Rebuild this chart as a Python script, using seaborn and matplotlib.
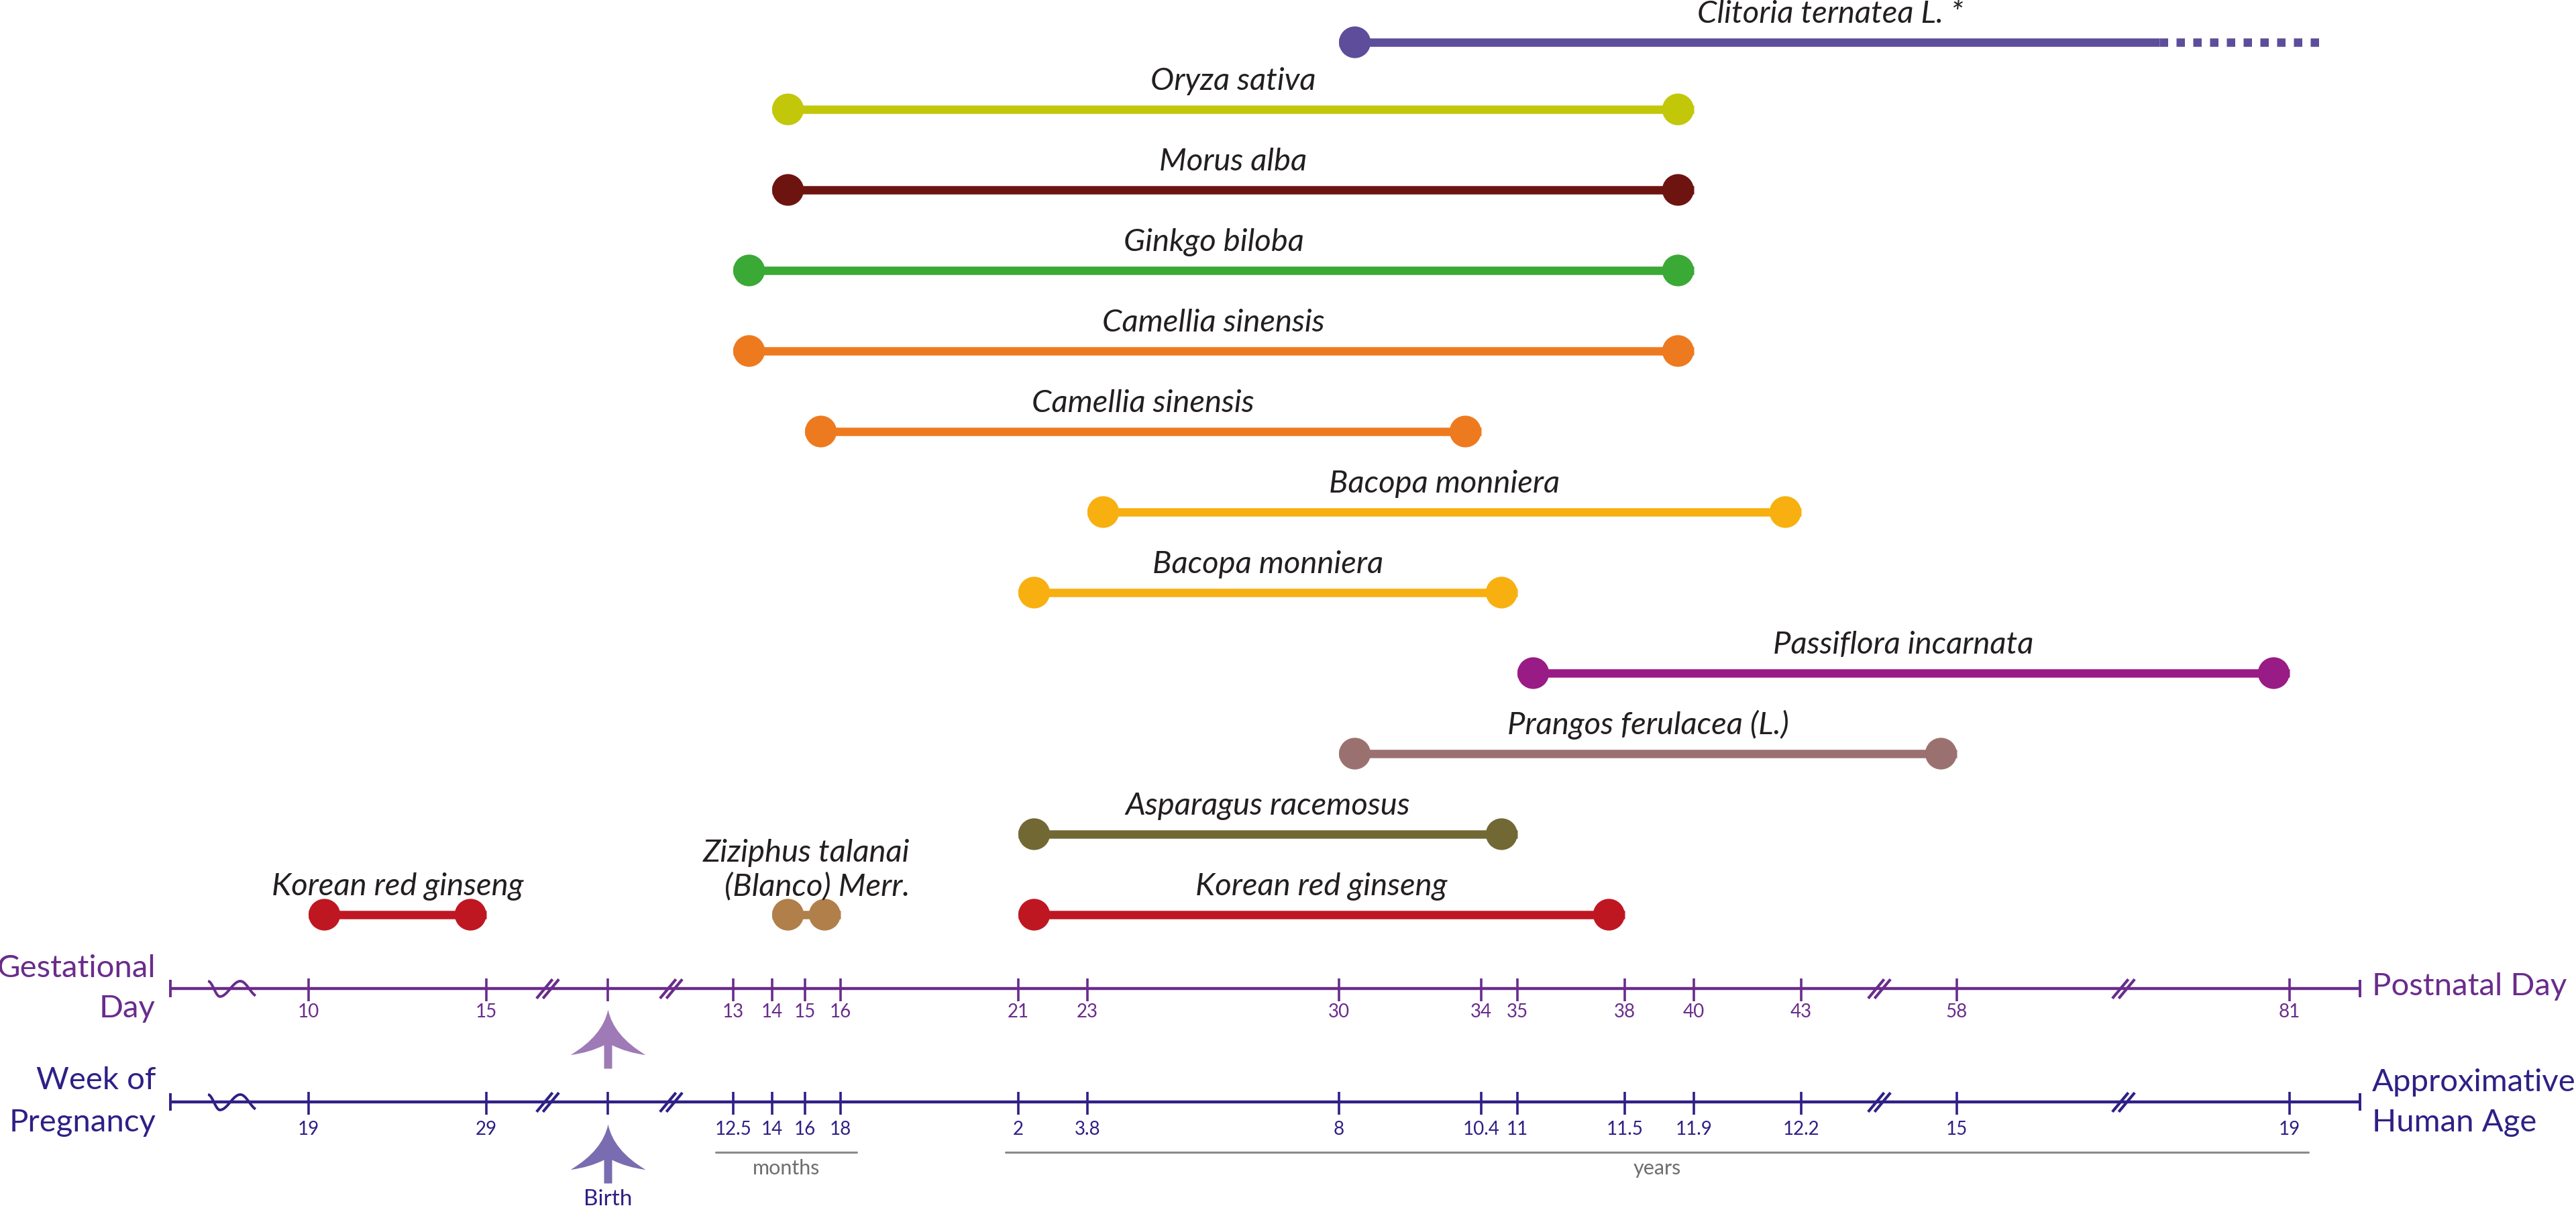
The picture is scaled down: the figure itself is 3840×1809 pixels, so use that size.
import numpy as np
import pandas as pd
import matplotlib
matplotlib.use('Agg')
import matplotlib.pyplot as plt
import seaborn as sns
from matplotlib.path import Path
from matplotlib.transforms import offset_copy

# ---- data -------------------------------------------------------------
# one bar per study, top row first; days are postnatal days unless prenatal
plants = ["Clitoria ternatea L. *", "Oryza sativa", "Morus alba", "Ginkgo biloba",
          "Camellia sinensis", "Camellia sinensis", "Bacopa monniera", "Bacopa monniera",
          "Passiflora incarnata", "Prangos ferulacea (L.)", "Asparagus racemosus",
          "Korean red ginseng", "Korean red ginseng", "Ziziphus talanai\n(Blanco) Merr."]
start_day = [30, 14, 14, 13, 13, 15, 23, 21, 35, 30, 21, 21, 10, 14]
end_day = [72, 40, 40, 40, 40, 34, 43, 35, 81, 58, 35, 38, 15, 16]
prenatal = [False] * 12 + [True, False]
continued_to = [83.3] + [np.nan] * 13   # dotted continuation (Clitoria only)
bar_colors = ["#5d4d9b", "#c2c70a", "#6e1410", "#3aa935", "#ee7a1f", "#ee7a1f",
              "#f7b00f", "#f7b00f", "#991b85", "#9b7170", "#716834", "#bf1722",
              "#bf1722", "#b07f4a"]

# axis ticks: gestational/postnatal day (rat) and matching human age
GEST_LEN = 22
day_ticks = [10 - GEST_LEN, 15 - GEST_LEN, 0, 13, 14, 15, 16, 21, 23, 30, 34, 35,
             38, 40, 43, 58, 81]
day_labels = ["10", "15", "", "13", "14", "15", "16", "21", "23", "30", "34", "35",
              "38", "40", "43", "58", "81"]
human_labels = ["19", "29", "", "12.5", "14", "16", "18", "2", "3.8", "8", "10.4",
                "11", "11.5", "11.9", "12.2", "15", "19"]

# ---- layout -----------------------------------------------------------
lane = [11, 10, 9, 8, 7, 6, 5, 4, 3, 2, 1, 0, 0, 0]
ROW_BASE, ROW_STEP = 1363, 120
TICK_POS = [460, 725, 906, 1093, 1151, 1200, 1253, 1518, 1621, 1996, 2208, 2262,
            2422, 2525, 2685, 2917, 3413]
AXIS_T = (-16, 86)
SCALE_T = np.array([-30, AXIS_T[0]] + day_ticks + [AXIS_T[1], 110], dtype=float)
SCALE_P = np.array([-488, 254] + TICK_POS + [3518, 4022], dtype=float)
GEST_Y, WEEK_Y = 1473, 1642
GEST_COL, WEEK_COL = "#6a2c8c", "#2e2086"
LABEL_COL = "#231f20"
DOT = 34  # marker diameter in points


def fwd(t):
    return np.interp(t, SCALE_T, SCALE_P)


def inv(p):
    return np.interp(p, SCALE_P, SCALE_T)


sns.set_theme(style="white")
plt.rcParams['font.family'] = ['Lato', 'DejaVu Sans']

fig = plt.figure(figsize=(38.4, 18.09), dpi=100)
ax = fig.add_axes([0, 0, 1, 1])
ax.set_xscale('function', functions=(fwd, inv))

df = pd.DataFrame({"plant": plants, "start": start_day, "end": end_day,
                   "prenatal": prenatal, "cont": continued_to,
                   "color": bar_colors, "lane": lane})
df["t0"] = np.where(df.prenatal, df.start - GEST_LEN, df.start)
df["t1"] = np.where(df.prenatal, df.end - GEST_LEN, df.end)
df["y"] = ROW_BASE - ROW_STEP * df.lane
df.loc[df.lane == 11, "y"] += 20  # top row squeezed under the page edge
df["key"] = df.index.astype(str)
pal = dict(zip(df.key, df.color))

# bars
ax.hlines(df.y, df.t0, df.t1, colors=df.color, lw=9, zorder=2)
cont = df.dropna(subset=["cont"])
ax.hlines(cont.y, cont.t1, cont.cont, colors=cont.color, lw=9,
          linestyles=[(0, (1, 1))], zorder=2)

# end dots, pulled inside the bar by one radius
r = DOT / 2
sns.scatterplot(data=df, x="t0", y="y", hue="key", palette=pal, s=DOT ** 2,
                linewidth=0, legend=False, ax=ax, zorder=3,
                transform=offset_copy(ax.transData, fig=fig, x=r, y=0, units='points'))
ends = df[df.cont.isna()]
sns.scatterplot(data=ends, x="t1", y="y", hue="key", palette=pal, s=DOT ** 2,
                linewidth=0, legend=False, ax=ax, zorder=3,
                transform=offset_copy(ax.transData, fig=fig, x=-r, y=0, units='points'))

# labels centred over each bar
for _, row in df.iterrows():
    t_end = row.cont if not np.isnan(row.cont) else row.t1
    xm = inv((fwd(row.t0) + fwd(t_end)) / 2)
    ax.text(xm, row.y - 21, row.plant, ha="center", va="bottom", ma="right",
            style="italic", fontsize=34, color=LABEL_COL, zorder=4)

# ---- the two timelines ------------------------------------------------
brk = Path([(-14, -12), (6, 12), (-6, -12), (14, 12)],
           [Path.MOVETO, Path.LINETO, Path.MOVETO, Path.LINETO])
u = np.linspace(0, 1, 60)
phase = np.interp(u, [0, 0.25, 0.68, 1.0], [0, np.pi, 2 * np.pi, 2.85 * np.pi])
wave = Path(np.column_stack([u * 71 - 35.5, 11.5 * np.cos(phase)]))
break_t = [inv((TICK_POS[a] + TICK_POS[a + 1]) / 2) for a in (1, 2, 14, 15)]

for y0, col, labels, lab_dy in [(GEST_Y, GEST_COL, day_labels, 35),
                                (WEEK_Y, WEEK_COL, human_labels, 41)]:
    ax.plot(AXIS_T, [y0, y0], color=col, lw=3.2, solid_capstyle="butt", zorder=1)
    ax.vlines(AXIS_T, y0 - 13, y0 + 13, color=col, lw=2.8)
    ax.vlines(day_ticks, y0 - 15, y0 + 19, color=col, lw=2.6)
    for t, lab in zip(day_ticks, labels):
        ax.text(t, y0 + lab_dy, lab, ha="center", va="center", fontsize=20, color=col)
    ax.plot(break_t, [y0] * len(break_t), ls="none", marker=brk, markersize=24,
            markerfacecolor="none", markeredgecolor=col, markeredgewidth=3)
    ax.plot([inv(345)], [y0], ls="none", marker=wave, markersize=51,
            markerfacecolor="none", markeredgecolor=col, markeredgewidth=2.8)

# axis titles
left_x, right_x = inv(232), inv(3536)
ax.text(left_x, 1443, "Gestational", ha="right", va="center", fontsize=34, color=GEST_COL)
ax.text(left_x, 1503, "Day", ha="right", va="center", fontsize=34, color=GEST_COL)
ax.text(left_x, 1610, "Week of", ha="right", va="center", fontsize=34, color=WEEK_COL)
ax.text(left_x, 1673, "Pregnancy", ha="right", va="center", fontsize=34, color=WEEK_COL)
ax.text(right_x, 1470, "Postnatal Day", ha="left", va="center", fontsize=34, color=GEST_COL)
ax.text(right_x, 1613, "Approximative", ha="left", va="center", fontsize=34, color=WEEK_COL)
ax.text(right_x, 1673, "Human Age", ha="left", va="center", fontsize=34, color=WEEK_COL)

# months / years brackets
for a, b, pad0, pad1, word in [(3, 6, 26, 24, "months"), (7, 16, 19, 28, "years")]:
    p0, p1 = TICK_POS[a] - pad0, TICK_POS[b] + pad1
    ax.plot([inv(p0), inv(p1)], [1717, 1717], color="#8a8a8c", lw=2.2)
    ax.text(inv((p0 + p1) / 2), 1741, word, ha="center", va="center",
            fontsize=22, color="#6d6e70")

# birth arrows
arrow = Path([(0, 44), (8, 5), (56, -23.6), (28, -20), (6, -9), (6, -44), (-6, -44),
              (-6, -9), (-28, -20), (-56, -23.6), (-8, 5), (0, 44), (0, 44)],
             [Path.MOVETO, Path.CURVE3, Path.CURVE3, Path.CURVE3, Path.CURVE3,
              Path.LINETO, Path.LINETO, Path.LINETO, Path.CURVE3, Path.CURVE3,
              Path.CURVE3, Path.CURVE3, Path.CLOSEPOLY])
ax.plot([0], [1548], ls="none", marker=arrow, markersize=80.6,
        markerfacecolor="#9e7ab6", markeredgewidth=0)
ax.plot([0], [1719], ls="none", marker=arrow, markersize=80.6,
        markerfacecolor="#7a6cb0", markeredgewidth=0)
ax.text(0, 1787, "Birth", ha="center", va="center", fontsize=24, color=WEEK_COL)

ax.set_xlim(inv(0), inv(3840))
ax.set_ylim(1809, 0)
ax.axis("off")

fig.savefig("out.png", dpi=100)
